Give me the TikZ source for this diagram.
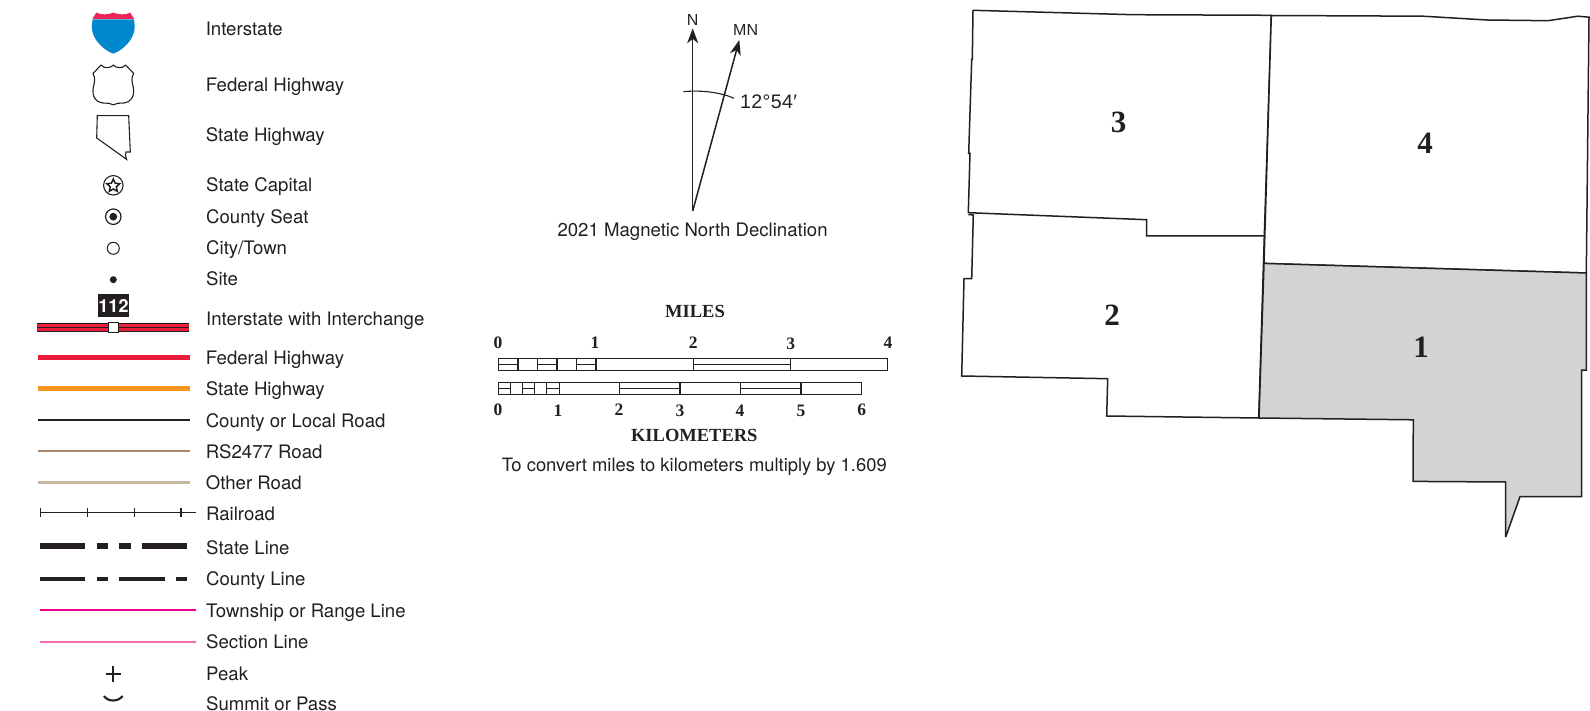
\documentclass[tikz,border=0pt]{standalone}
\usepackage{fontspec}
\usetikzlibrary{arrows.meta,shapes.geometric}
\setmainfont{TeX Gyre Heros}
\newfontfamily\serifbold{Liberation Serif}
\newfontfamily\arialfont{Liberation Sans}[LetterSpace=2]
\definecolor{ink}{HTML}{231F20}
\definecolor{ibluec}{HTML}{0088CE}
\definecolor{iredc}{HTML}{EE2558}
\definecolor{fedred}{HTML}{ED1C3A}
\definecolor{stateor}{HTML}{F7941D}
\definecolor{rstan}{HTML}{A9866A}
\definecolor{othertan}{HTML}{C8B79E}
\definecolor{twpink}{HTML}{EC008C}
\definecolor{secpink}{HTML}{F46DB5}
\definecolor{countygray}{HTML}{D1D3D4}
\tikzset{
  x=1pt,y=-1pt,
  every node/.style={inner sep=0pt,outer sep=0pt,text=ink},
  legend/.style={anchor=base west,font=\fontsize{18.6}{20}\selectfont},
  caption/.style={anchor=base,font=\fontsize{18.6}{20}\selectfont},
  compasslabel/.style={anchor=base,font=\fontsize{16}{18}\selectfont\arialfont},
  capserif/.style={anchor=base,font=\fontsize{18.5}{20}\selectfont\serifbold\bfseries},
  scalenum/.style={anchor=base,font=\fontsize{17.5}{20}\selectfont\serifbold\bfseries},
  mapnum/.style={anchor=base,font=\fontsize{31}{32}\selectfont\serifbold\bfseries},
  outline/.style={draw=ink,line width=1.5pt,line join=miter,miter limit=4},
  bar/.style={draw=ink,line width=1.1pt},
  head/.style={-{Stealth[length=15pt,width=11pt,inset=4.5pt]},draw=ink,line width=1.5pt}
}
\begin{document}
\begin{tikzpicture}
\useasboundingbox (0,0) rectangle (1590,711);
\clip (0,0) rectangle (1590,711);
% Interstate shield
\path[fill=ibluec] (92.6,19.5) -- (134,19.5) .. controls (135,27) and (135,30) .. (133,35) .. controls (130,43) and (121,51) .. (113.3,53.6) .. controls (105.5,51) and (96.5,43) .. (93.5,35) .. controls (91.5,30) and (91.5,27) .. (92.6,19.5) -- cycle;
\path[fill=iredc] (96.3,12.6) .. controls (101,15) and (108,15) .. (113.3,12.6) .. controls (119,15) and (126,15) .. (130.3,12.6) .. controls (131,15) and (133,16) .. (134,18.8) -- (92.6,18.8) .. controls (93.5,16) and (95.5,15) .. (96.3,12.6) -- cycle;
% Federal shield
\draw[draw=ink,line width=1.1pt,line join=round] (101,65) .. controls (103,67) and (105,68) .. (107.3,67.7) .. controls (110,67.7) and (112,66.5) .. (113.3,65) .. controls (114.6,66.5) and (116.6,67.7) .. (119.3,67.7) .. controls (121.6,68) and (123.6,67) .. (125.6,65) -- (133.7,73.5) .. controls (131,78) and (132,82) .. (133.2,87) .. controls (135,96) and (131,102.5) .. (124,103) .. controls (119,103.3) and (116,103) .. (113.3,104.8) .. controls (110.6,103) and (107.6,103.3) .. (102.6,103) .. controls (95.6,102.5) and (91.6,96) .. (93.4,87) .. controls (94.6,82) and (95.6,78) .. (93,73.5) -- cycle;
% State outline
\draw[draw=ink,line width=1.1pt,line join=miter] (97.3,115.7) -- (128.7,115.7) -- (130.3,152) -- (126,152) .. controls (125,154) and (125.5,156) .. (126.7,159.4) -- (96.7,138) -- cycle;
% Point symbols
\node[circle,draw=ink,line width=1.1pt,minimum size=19.5pt] (capc) at (113.3,185.3) {};
\node[star,star points=5,star point ratio=2.1,draw=ink,line width=1.5pt,fill=white,minimum size=13.5pt] (caps) at (113.3,185.8) {};
\node[circle,draw=ink,line width=1.2pt,minimum size=15.5pt] (seatc) at (113.3,216.7) {};
\node[circle,fill=ink,minimum size=7.8pt] (seatd) at (113.3,216.7) {};
\node[circle,draw=ink,line width=1pt,minimum size=12pt] (city) at (113.3,248.3) {};
\node[circle,fill=ink,minimum size=7pt] (site) at (113.3,279.7) {};
% Interstate line
\path[fill=ink] (37.3,322.7) rectangle (189.3,331.7);
\path[fill=fedred] (37.3,323.9) rectangle (189.3,326.6);
\path[fill=fedred] (37.3,327.9) rectangle (189.3,330.5);
\node[fill=ink,minimum width=31pt,minimum height=23pt,font=\fontsize{18}{20}\selectfont\bfseries] (shieldno) at (113.5,305.5) {\textcolor{white}{112}};
\node[draw=ink,line width=1.1pt,fill=white,minimum width=10.5pt,minimum height=10.5pt] (inter) at (113.6,327.4) {};
% Line samples
\coordinate (la) at (37.5,357); \coordinate (lb) at (189.6,357);
\draw[fedred,line width=5pt] (la) -- (lb);
\coordinate (lc) at (37.5,388.6); \coordinate (ld) at (189.6,388.6);
\draw[stateor,line width=5pt] (lc) -- (ld);
\coordinate (le) at (37.5,419.8); \coordinate (lf) at (189.6,419.8);
\draw[ink,line width=2pt] (le) -- (lf);
\coordinate (lg) at (37.5,451); \coordinate (lh) at (189.6,451);
\draw[rstan,line width=2.6pt] (lg) -- (lh);
\coordinate (li) at (37.5,482.4); \coordinate (lj) at (189.6,482.4);
\draw[othertan,line width=2.4pt] (li) -- (lj);
% Railroad
\coordinate (ra) at (40.7,512.7); \coordinate (rb) at (196,512.7);
\draw[ink,line width=1.2pt] (ra) -- (rb);
\foreach \tx in {40.7,87.3,134.3,181} \draw[ink,line width=1.1pt] (\tx,508) -- (\tx,517.4);
% State line
\foreach \sa/\sb in {40/85.3,96.7/108,119.3/130.7,142/187.3} \draw[ink,line width=6pt] (\sa,546.3) -- (\sb,546.3);
% County line
\foreach \sa/\sb in {40/85.3,96.7/108,119.3/164.7,176/187.3} \draw[ink,line width=3.8pt] (\sa,579.3) -- (\sb,579.3);
\coordinate (ta) at (40,610); \coordinate (tb) at (196,610);
\draw[twpink,line width=2.1pt] (ta) -- (tb);
\coordinate (sa) at (40,642); \coordinate (sb) at (196,642);
\draw[secpink,line width=1.6pt] (sa) -- (sb);
% Peak and pass
\draw[ink,line width=2.1pt] (105.6,674) -- (121,674) (113.3,666.3) -- (113.3,681.7);
\draw[ink,line width=2.1pt] (104,696) .. controls (108,702) and (118,702) .. (122.7,696);
% Legend text
\node[legend] (t1) at (205.8,36) {Interstate};
\node[legend] (t2) at (205.8,92) {Federal Highway};
\node[legend] (t3) at (205.8,142) {State Highway};
\node[legend] (t4) at (206.2,191.5) {State Capital};
\node[legend] (t5) at (206.2,224) {County Seat};
\node[legend] (t6) at (206.2,255) {City/Town};
\node[legend] (t7) at (206.2,285.5) {Site};
\node[legend] (t8) at (206.2,325) {Interstate with Interchange};
\node[legend] (t9) at (205.8,364) {Federal Highway};
\node[legend] (t10) at (205.8,395) {State Highway};
\node[legend] (t11) at (205.8,427) {County or Local Road};
\node[legend] (t12) at (205.8,458) {RS2477 Road};
\node[legend] (t13) at (205.8,489.5) {Other Road};
\node[legend] (t14) at (206.2,520) {Railroad};
\node[legend] (t15) at (206.2,554) {State Line};
\node[legend] (t16) at (206.2,585) {County Line};
\node[legend] (t17) at (206.2,617) {Township or Range Line};
\node[legend] (t18) at (206.2,648) {Section Line};
\node[legend] (t19) at (206.2,680) {Peak};
\node[legend] (t20) at (206.2,710.5) {Summit or Pass};
% Compass
\coordinate (mbase) at (692.7,211);
\coordinate (ntip) at (692.7,28.3);
\coordinate (mntip) at (739.3,40);
\draw[head] (mbase) -- (ntip);
\draw[head] (mbase) -- (mntip);
\draw[ink,line width=1.1pt] (683.3,91.7) .. controls (700,90) and (720,92) .. (734,98.3);
\node[compasslabel] (nn) at (692.7,25.5) {N};
\node[compasslabel] (mn) at (745.7,35.5) {MN};
\node[anchor=base west,font=\fontsize{19.6}{20}\selectfont\arialfont] (decl) at (740,108.5) {12°54′};
\node[caption] (capd) at (692.6,237) {2021 Magnetic North Declination};
% Scale bars
\draw[bar] (498.3,358.3) rectangle (887.7,370.3);
\foreach \tx in {518,537.3,557,576.3,596,693.3,790.7} \draw[bar] (\tx,358.3) -- (\tx,370.3);
\foreach \sa/\sb in {498.3/518,537.3/557,576.3/596,693.3/790.7} \draw[bar] (\sa,364.3) -- (\sb,364.3);
\draw[bar] (498.3,382.7) rectangle (861.7,394.7);
\foreach \tx in {510.3,522.7,534.7,546.7,559.3,619.3,680,740.3,801} \draw[bar] (\tx,382.7) -- (\tx,394.7);
\foreach \sa/\sb in {498.3/510.3,522.7/534.7,546.7/559.3,619.3/680,740.3/801} \draw[bar] (\sa,388.7) -- (\sb,388.7);
\node[capserif] (miles) at (695,317) {MILES};
\node[scalenum] (m0) at (498,348.3) {0};
\node[scalenum] (m1) at (595,348.3) {1};
\node[scalenum] (m2) at (693.3,348.3) {2};
\node[scalenum] (m3) at (790.7,349.3) {3};
\node[scalenum] (m4) at (888,348.8) {4};
\node[scalenum] (k0) at (498,415) {0};
\node[scalenum] (k1) at (558,416.3) {1};
\node[scalenum] (k2) at (619,415) {2};
\node[scalenum] (k3) at (680,416) {3};
\node[scalenum] (k4) at (740,416.3) {4};
\node[scalenum] (k5) at (801,416.3) {5};
\node[scalenum] (k6) at (861.7,415) {6};
\node[capserif] (kil) at (694.3,441) {KILOMETERS};
\node[anchor=base,font=\fontsize{18.4}{20}\selectfont] (conv) at (694.3,471.5) {To convert miles to kilometers multiply by 1.609};
% Map
\draw[outline,fill=white] (968.3,214.5) -- (973.3,215) -- (971.7,278.7) -- (964,278.7) -- (961.7,376) -- (1107.7,378.7) -- (1106.7,416) -- (1258.7,418) -- (1264.3,236);
\draw[outline,fill=white] (973,10.3) -- (1133,14.7) -- (1271.3,15.3) -- (1264.3,236) -- (1146.7,236) -- (1146.7,219.7) -- (968.3,212.7) -- (970,153.3) -- (968.7,153.3) -- (971.7,59.3) -- (972.3,59.3) -- cycle;
\draw[outline,fill=white] (1271.3,15.5) -- (1423,16.2) -- (1487,20) -- (1548,20.7) -- (1578,16.2) -- (1589,17.2) -- (1586.3,273) -- (1264,263.4) -- cycle;
\draw[outline,fill=countygray] (1264,263.4) -- (1586.3,273) -- (1586.3,370) -- (1581.7,370) -- (1581.7,496.6) -- (1520,496.6) -- (1505.7,537) -- (1505.7,482) -- (1413,481.4) -- (1413.3,419.8) -- (1259,418) -- cycle;
\node[mapnum] (c3) at (1118.5,133) {3};
\node[mapnum] (c2) at (1112,325) {2};
\node[mapnum] (c4) at (1425,154) {4};
\node[mapnum] (c1) at (1421,357) {1};
\end{tikzpicture}
\end{document}
